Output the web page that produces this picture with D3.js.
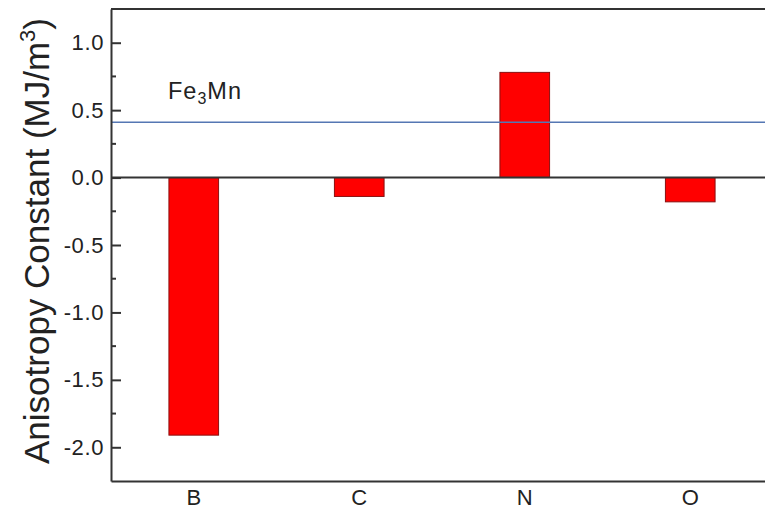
<!DOCTYPE html>
<html>
<head>
<meta charset="utf-8">
<script src="https://cdn.jsdelivr.net/npm/d3@7"></script>
<style>
  html, body { margin: 0; padding: 0; background: #fff; }
  svg { display: block; }
  text { font-family: "Liberation Sans", Arial, sans-serif; fill: #222; }
</style>
</head>
<body>
<svg id="chart" width="765" height="515"></svg>
<script>
// Dopant elements and their anisotropy constants (MJ/m^3)
const dopants = ["B", "C", "N", "O"];
const anisotropy = [-1.91, -0.14, 0.78, -0.18];

// Reference level of undoped Fe3Mn
const refLabel = "Fe3Mn";
const refValue = 0.41;

// Axis ticks
const yMajorTicks = [-2.0, -1.5, -1.0, -0.5, 0.0, 0.5, 1.0];
const yMinorTicks = [-1.75, -1.25, -0.75, -0.25, 0.25, 0.75];
const yDomain = [-2.25, 1.25];

const svg = d3.select("#chart");
const plotLeft = 111, plotRight = 773, plotTop = 9, plotBottom = 481;

const x = d3.scaleBand()
  .domain(dopants)
  .range([plotLeft, plotRight])
  .paddingInner(0.7)
  .paddingOuter(0.35);

const y = d3.scaleLinear().domain(yDomain).range([plotBottom, plotTop]);

const axisColor = "#333";

// bars
svg.append("g")
  .selectAll("rect")
  .data(dopants.map((d, i) => ({ d, v: anisotropy[i] })))
  .join("rect")
  .attr("x", p => x(p.d))
  .attr("width", x.bandwidth())
  .attr("y", p => y(Math.max(0, p.v)))
  .attr("height", p => Math.abs(y(p.v) - y(0)))
  .attr("fill", "#ff0000")
  .attr("stroke", "#8a1010")
  .attr("stroke-width", 1);

// zero line
svg.append("line")
  .attr("x1", plotLeft).attr("x2", plotRight)
  .attr("y1", y(0)).attr("y2", y(0))
  .attr("stroke", axisColor).attr("stroke-width", 2);

// Fe3Mn reference line
svg.append("line")
  .attr("x1", plotLeft).attr("x2", plotRight)
  .attr("y1", y(refValue)).attr("y2", y(refValue))
  .attr("stroke", "#5577b3").attr("stroke-width", 1.5);

const refText = svg.append("text")
  .attr("x", 168)
  .attr("y", 99)
  .attr("font-family", "'Open Sans', sans-serif")
  .attr("letter-spacing", 1)
  .attr("font-size", 23.5);
refText.append("tspan").text(refLabel.slice(0, 2));
refText.append("tspan").text(refLabel.slice(2, 3))
  .attr("font-size", 16).attr("dy", 5);
refText.append("tspan").text(refLabel.slice(3)).attr("dy", -5);

// top frame
svg.append("line")
  .attr("x1", plotLeft).attr("x2", plotRight)
  .attr("y1", plotTop).attr("y2", plotTop)
  .attr("stroke", axisColor).attr("stroke-width", 2);

// left axis with inward ticks
const yAxis = svg.append("g")
  .attr("transform", `translate(${plotLeft},0)`)
  .call(d3.axisLeft(y)
    .tickValues(yMajorTicks)
    .tickFormat(d => d3.format(".1f")(d).replace("\u2212", "-"))
    .tickSizeInner(-10)
    .tickSizeOuter(0)
    .tickPadding(7));
yAxis.select(".domain").attr("stroke", axisColor).attr("stroke-width", 2);
yAxis.selectAll(".tick line").attr("stroke", axisColor).attr("stroke-width", 2);
yAxis.selectAll(".tick text")
  .attr("font-size", 22)
  .attr("letter-spacing", 0.6)
  .attr("font-family", "'Liberation Sans', Arial, sans-serif")
  .attr("fill", "#222");

yAxis.selectAll(".minor")
  .data(yMinorTicks)
  .join("line")
  .attr("class", "minor")
  .attr("x1", 0).attr("x2", 5)
  .attr("y1", d => y(d)).attr("y2", d => y(d))
  .attr("stroke", axisColor).attr("stroke-width", 2);

// bottom axis, labels only
const xAxis = svg.append("g")
  .attr("transform", `translate(0,${plotBottom})`)
  .call(d3.axisBottom(x).tickSize(0).tickPadding(8));
xAxis.select(".domain").attr("stroke", axisColor).attr("stroke-width", 2);
xAxis.selectAll(".tick text")
  .attr("font-size", 22)
  .attr("font-family", "'Liberation Sans', Arial, sans-serif")
  .attr("fill", "#222");

// y-axis title
const title = svg.append("text")
  .attr("transform", `translate(49,241) rotate(-90)`)
  .attr("text-anchor", "middle")
  .attr("font-size", 35);
title.append("tspan").text("Anisotropy Constant (MJ/m");
title.append("tspan").text("3").attr("font-size", 22).attr("dy", -14);
title.append("tspan").text(")").attr("dy", 14);
</script>
</body>
</html>
